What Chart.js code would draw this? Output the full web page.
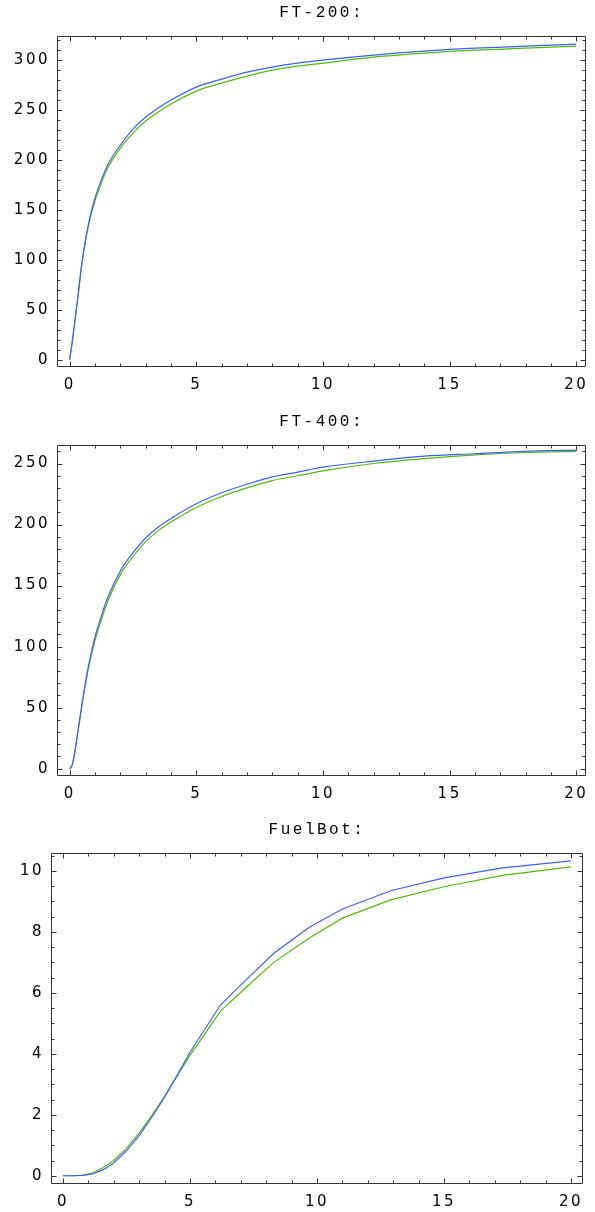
<!DOCTYPE html>
<html>
<head>
<meta charset="utf-8">
<script src="https://cdn.jsdelivr.net/npm/chart.js@4"></script>
<style>
  html, body { margin: 0; padding: 0; background: #fff; }
  body { width: 595px; height: 1212px; position: relative; overflow: hidden; }
  .plot { position: absolute; left: 0; width: 595px; height: 400px; }
</style>
</head>
<body>
<div class="plot" style="top:0px"><canvas id="chartFT200"></canvas></div>
<div class="plot" style="top:409px"><canvas id="chartFT400"></canvas></div>
<div class="plot" style="top:817px"><canvas id="chartFuelBot"></canvas></div>
<script>
// Dữ liệu
const xFT = [0, 0.1, 0.2, 0.3, 0.4, 0.5, 0.75, 1, 1.25, 1.5, 2, 2.5, 3, 3.5, 4, 5, 6, 7, 8, 9, 10, 12, 14, 16, 18, 20];
const ft200Blue  = [0, 18, 38, 58, 80, 100, 137, 162, 180, 195, 215, 231, 243, 252, 260, 273, 281, 288, 293, 297, 300, 305, 309, 312, 314, 316];
const ft200Green = [0, 17, 37, 57, 79, 99, 135, 159, 177, 192, 212, 227, 239, 248, 256, 269, 277, 284, 290, 294, 297, 303, 307, 310, 312, 314];
const ft400Blue  = [0, 3, 13, 27, 41, 55, 85, 108, 125, 140, 162, 177, 189, 198, 205, 217, 226, 233, 239, 243, 247, 252, 256, 258, 260, 261];
const ft400Green = [0, 3, 13, 27, 40, 54, 83, 105, 122, 137, 159, 174, 186, 195, 202, 214, 223, 230, 236, 240, 244, 250, 254, 257, 259, 260];

const xFuel = [0, 0.4, 0.8, 1.2, 1.6, 2, 2.5, 3, 3.5, 4, 4.5, 5, 6.2, 7.3, 8.3, 9.7, 11, 12.9, 15, 17.3, 20];
const fuelBlue  = [0, 0, 0.01, 0.07, 0.2, 0.42, 0.82, 1.32, 1.92, 2.58, 3.3, 4.05, 5.6, 6.5, 7.3, 8.15, 8.75, 9.35, 9.77, 10.1, 10.33];
const fuelGreen = [0, 0, 0.02, 0.1, 0.27, 0.5, 0.9, 1.4, 1.98, 2.6, 3.28, 3.95, 5.4, 6.25, 7.0, 7.8, 8.45, 9.05, 9.48, 9.85, 10.13];

const xTicks = [0, 5, 10, 15, 20];
const ft200Ticks = [0, 50, 100, 150, 200, 250, 300];
const ft400Ticks = [0, 50, 100, 150, 200, 250];
const fuelTicks = [0, 2, 4, 6, 8, 10];

const BLUE = '#3d5eff';
const GREEN = '#4cbf00';

// Khung kiểu Mathematica: viền + vạch chia hướng vào trong
const framePlugin = {
  id: 'mmaFrame',
  beforeDraw(chart) {
    chart.ctx.letterSpacing = '2.5px';
  },
  afterDraw(chart, args, opts) {
    const { ctx, chartArea: a, scales: { x, y } } = chart;
    const L = Math.round(a.left) + 0.5, R = Math.round(a.right) - 0.5;
    const T = Math.round(a.top) + 0.5, B = Math.round(a.bottom) - 0.5;
    ctx.save();
    ctx.strokeStyle = '#333';
    ctx.lineWidth = 1;
    ctx.beginPath();
    ctx.rect(L, T, R - L, B - T);

    const isMajor = (v, step) => Math.abs(v / step - Math.round(v / step)) < 1e-6;

    for (let v = Math.ceil(x.min / opts.xMinor) * opts.xMinor; v <= x.max + 1e-9; v += opts.xMinor) {
      const px = Math.round(x.getPixelForValue(v)) + 0.5;
      const len = isMajor(v, opts.xMajor) ? 5 : 3;
      ctx.moveTo(px, B); ctx.lineTo(px, B - len);
      ctx.moveTo(px, T); ctx.lineTo(px, T + len);
    }
    for (let v = Math.ceil(y.min / opts.yMinor) * opts.yMinor; v <= y.max + 1e-9; v += opts.yMinor) {
      const py = Math.round(y.getPixelForValue(v)) + 0.5;
      const len = isMajor(v, opts.yMajor) ? 5 : 3;
      ctx.moveTo(L, py); ctx.lineTo(L + len, py);
      ctx.moveTo(R, py); ctx.lineTo(R - len, py);
    }
    ctx.stroke();
    ctx.restore();
  }
};

function toPoints(xs, ys) {
  return xs.map((v, i) => ({ x: v, y: ys[i] }));
}

function makeChart(id, cfg) {
  const ctx = document.getElementById(id);
  return new Chart(ctx, {
    type: 'line',
    data: {
      datasets: [
        { data: toPoints(cfg.xs, cfg.blue), borderColor: BLUE, borderWidth: 1.2, pointRadius: 0,
          cubicInterpolationMode: cfg.smooth ? 'monotone' : 'default', tension: 0 },
        { data: toPoints(cfg.xs, cfg.green), borderColor: GREEN, borderWidth: 1.2, pointRadius: 0,
          cubicInterpolationMode: cfg.smooth ? 'monotone' : 'default', tension: 0 }
      ]
    },
    options: {
      responsive: true,
      maintainAspectRatio: false,
      animation: false,
      layout: { padding: { left: 0, right: cfg.padRight, top: 0, bottom: 0 } },
      plugins: {
        legend: { display: false },
        tooltip: { enabled: false },
        title: {
          display: true,
          fullSize: false,
          text: cfg.title,
          color: '#000',
          font: { family: '"Liberation Mono", "DejaVu Sans Mono", monospace', size: 16, weight: 'normal' },
          padding: { top: 3, bottom: 14 }
        },
        mmaFrame: { xMinor: 1, xMajor: 5, yMinor: cfg.yMinor, yMajor: cfg.yMajor }
      },
      scales: {
        x: {
          type: 'linear',
          min: cfg.xMin,
          max: cfg.xMax,
          grid: { display: false, drawTicks: false },
          border: { display: false },
          afterBuildTicks: s => { s.ticks = xTicks.map(v => ({ value: v })); },
          afterFit: s => { s.height = 33; },
          ticks: {
            autoSkip: false, maxRotation: 0, padding: 9, color: '#000',
            font: { family: '"DejaVu Sans", sans-serif', size: 15 }
          }
        },
        y: {
          min: cfg.yMin,
          max: cfg.yMax,
          grid: { display: false, drawTicks: false },
          border: { display: false },
          afterBuildTicks: s => { s.ticks = cfg.yTicks.map(v => ({ value: v })); },
          afterFit: s => { s.width = cfg.yWidth; },
          ticks: {
            autoSkip: false, padding: 7, color: '#000',
            font: { family: '"DejaVu Sans", sans-serif', size: 15 }
          }
        }
      }
    },
    plugins: [framePlugin]
  });
}

document.addEventListener('DOMContentLoaded', function () {
  makeChart('chartFT200', {
    title: 'FT-200:', xs: xFT, blue: ft200Blue, green: ft200Green, smooth: true,
    xMin: -0.5, xMax: 20.4, yMin: -7.3, yMax: 324, yTicks: ft200Ticks,
    yMinor: 10, yMajor: 50, yWidth: 57, padRight: 4
  });
  makeChart('chartFT400', {
    title: 'FT-400:', xs: xFT, blue: ft400Blue, green: ft400Green, smooth: true,
    xMin: -0.5, xMax: 20.4, yMin: -6, yMax: 265, yTicks: ft400Ticks,
    yMinor: 10, yMajor: 50, yWidth: 57, padRight: 4
  });
  makeChart('chartFuelBot', {
    title: 'FuelBot:', xs: xFuel, blue: fuelBlue, green: fuelGreen, smooth: false,
    xMin: -0.47, xMax: 20.47, yMin: -0.27, yMax: 10.58, yTicks: fuelTicks,
    yMinor: 0.5, yMajor: 2, yWidth: 51, padRight: 12
  });
});
</script>
</body>
</html>
